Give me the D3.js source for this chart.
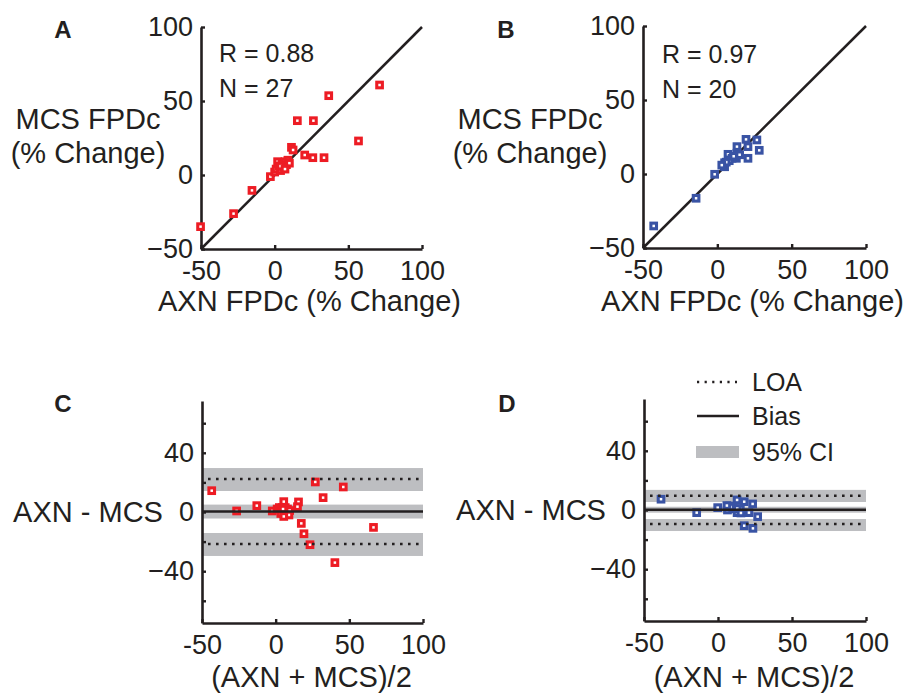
<!DOCTYPE html>
<html>
<head>
<meta charset="utf-8">
<script src="https://cdn.jsdelivr.net/npm/d3@7"></script>
<style>
  body { margin: 0; background: #fff; }
  svg text { font-family: "Liberation Sans", Arial, Helvetica, sans-serif; fill: #231f20; }
</style>
</head>
<body>
<svg id="fig" width="906" height="693"></svg>
<script>
// ---- data: FPDc % change, AXN vs MCS ----
// panel A: [AXN, MCS]
const pairsA = [
  [-50.3, -34.9], [-27.9, -26.1], [-15.4, -10.4], [-2.9, -1.1], [36.7, 53.6],
  [71.2, 60.8], [15.4, 36.7], [26.3, 36.7], [56.9, 23.0], [20.4, 13.5],
  [25.9, 11.7], [33.5, 11.7], [11.4, 18.7], [12.5, 16.9],
  [0, 2], [1, 4], [2, 9], [3, 6], [4, 3], [5, 8], [6, 5], [7, 9], [8, 7],
  [9, 10], [10, 8], [4, 6], [7, 4]
];
// panel B: [AXN, MCS]
const pairsB = [
  [-42.8, -35.1], [-14.3, -16.4], [-1.8, -0.2], [19.3, 23.4], [26.6, 23.0],
  [28.2, 16.0], [20.6, 10.6], [20.6, 18.5], [13.2, 18.5], [13.2, 14.0],
  [7.2, 13.3], [12.8, 10.6], [9.9, 10.6], [4.9, 7.6], [4.9, 4.9],
  [8, 9], [11, 12], [15, 13], [6, 8], [3, 6]
];
// panel C: [mean, difference]
const blandC = [
  [-43.4, 14.4], [-26.5, 0.7], [-12.8, 4.3], [-2.3, 0.7], [26.9, 20.3],
  [45.9, 16.9], [32.2, 9.7], [15.5, 6.8], [14.8, 3.6], [17.4, -7.7],
  [19.2, -14.7], [23.3, -22.1], [40.2, -34.2], [66.4, -10.4],
  [1, 2], [2.5, 3], [5.5, 7], [4.5, 3], [3.5, -1], [6.5, 3], [5.5, -1],
  [8, 2], [7.5, -1], [9.5, 1], [9, -2], [5, 2], [5.5, -3]
];
// panel D: [mean, difference]
const blandD = [
  [-38.5, 7.3], [-14.4, -1.8], [-0.2, 1.6], [12.9, 6.8], [17.7, 5.6],
  [23.4, 4.1], [26.8, -4.5], [17.7, -10.6], [23.6, -12.4], [12.9, -1.8],
  [20.9, -1.8], [15.1, 0.8], [11.8, 0.7], [7.8, 2.7], [6.4, 0],
  [10, 1], [13, 1], [15.5, -2], [8.5, 2], [6, 3]
];
// bias, limits of agreement and their 95% CIs
const biasC = 0.3, loaC = [-21.6, 22.3];
const ciC = [[-4.4, 5.0], [-29.7, -14.2], [14.2, 29.7]];
const biasD = 0.2, loaD = [-9.5, 9.6];
const ciD = [[-1.8, 2.2], [-14.2, -6.1], [5.4, 13.6]];

const statsA = ["R = 0.88", "N = 27"];
const statsB = ["R = 0.97", "N = 20"];

const scatterTicks = [-50, 0, 50, 100];
const diffTicks = [-60, -40, -20, 0, 20, 40, 60];
const diffLabelled = [-40, 0, 40];
const legendItems = ["LOA", "Bias", "95% CI"];

// ---- drawing ----
const RED = "#ed1c24", BLUE = "#3953a4", GREY = "#bdbec1", INK = "#231f20";
const svg = d3.select("#fig");
const yFmt = d => d < 0 ? "\u2212" + Math.abs(d) : String(d);
const xFmt = d => String(d);

function axes(g, x, y, yTicks, yLabelled) {
  const ax = g.append("g").attr("transform", `translate(0,${y.range()[0]})`)
    .call(d3.axisBottom(x).tickValues(scatterTicks).tickFormat(xFmt)
      .tickSizeInner(-4).tickSizeOuter(0).tickPadding(12));
  const ay = g.append("g").attr("transform", `translate(${x.range()[0]},0)`)
    .call(d3.axisLeft(y).tickValues(yTicks)
      .tickFormat(d => yLabelled.includes(d) ? yFmt(d) : "")
      .tickSizeInner(-4).tickSizeOuter(0).tickPadding(8));
  [ax, ay].forEach(a => {
    a.select(".domain").attr("stroke", INK).attr("stroke-width", 2.6);
    a.selectAll(".tick line").attr("stroke", INK).attr("stroke-width", 2.4);
    a.selectAll("text").style("font-size", "27px").attr("fill", INK);
  });
}

function markers(g, data, x, y, color) {
  g.append("g").selectAll("rect").data(data).join("rect")
    .attr("x", d => x(d[0]) - 2.8).attr("y", d => y(d[1]) - 2.8)
    .attr("width", 5.6).attr("height", 5.6)
    .attr("fill", "#fff").attr("stroke", color).attr("stroke-width", 3.1);
}

function scatterPanel(o) {
  const g = svg.append("g");
  const x = d3.scaleLinear().domain([-50, 100]).range(o.xr);
  const y = d3.scaleLinear().domain([-50, 100]).range(o.yr);
  axes(g, x, y, scatterTicks, scatterTicks);
  g.append("line")
    .attr("x1", x(-50)).attr("y1", y(-50)).attr("x2", x(100)).attr("y2", y(100))
    .attr("stroke", INK).attr("stroke-width", 2.5);
  markers(g, o.data, x, y, o.color);
  g.append("text").attr("x", o.letter[0]).attr("y", o.letter[1])
    .attr("text-anchor", "middle").style("font-size", "24px").style("font-weight", "bold")
    .text(o.name);
  o.stats.forEach((s, i) => g.append("text")
    .attr("x", o.statPos[0]).attr("y", o.statPos[1] + i * 35)
    .style("font-size", "25px").attr("fill", "#333").text(s));
  g.append("text").attr("text-anchor", "middle").style("font-size", "29px")
    .selectAll("tspan").data(["MCS FPDc", "(% Change)"]).join("tspan")
    .attr("x", o.yTitleX).attr("y", (d, i) => 129 + i * 34).text(d => d);
  g.append("text").attr("x", (o.xr[0] + o.xr[1]) / 2 - 2).attr("y", 311)
    .attr("text-anchor", "middle").style("font-size", "29px").text("AXN FPDc (% Change)");
}

function blandPanel(o) {
  const g = svg.append("g");
  const x = d3.scaleLinear().domain([-50, 100]).range(o.xr);
  const y = d3.scaleLinear().domain([-75, 75]).range(o.yr);
  const [x0, x1] = o.xr;
  // confidence bands
  g.append("g").selectAll("rect").data(o.ci).join("rect")
    .attr("x", x0).attr("width", x1 - x0)
    .attr("y", d => y(d[1])).attr("height", d => y(d[0]) - y(d[1]))
    .attr("fill", GREY);
  markers(g, o.data, x, y, o.color);
  // limits of agreement
  g.append("g").selectAll("line").data(o.loa).join("line")
    .attr("x1", x0 + 6).attr("x2", x1).attr("y1", d => y(d)).attr("y2", d => y(d))
    .attr("stroke", INK).attr("stroke-width", 2.6).attr("stroke-dasharray", "2.6,5.4");
  // bias
  g.append("line").attr("x1", x0).attr("x2", x1)
    .attr("y1", y(o.bias)).attr("y2", y(o.bias))
    .attr("stroke", INK).attr("stroke-width", 2.6);
  axes(g, x, y, diffTicks, diffLabelled);
  g.append("text").attr("x", o.letter[0]).attr("y", o.letter[1])
    .attr("text-anchor", "middle").style("font-size", "24px").style("font-weight", "bold")
    .text(o.name);
  g.append("text").attr("x", o.yTitleX).attr("y", y(0) + 10)
    .attr("text-anchor", "middle").style("font-size", "29px").text("AXN - MCS");
  g.append("text").attr("x", (x0 + x1) / 2 - 1).attr("y", 687)
    .attr("text-anchor", "middle").style("font-size", "29px").text("(AXN + MCS)/2");
}

scatterPanel({ name: "A", data: pairsA, color: RED, xr: [201, 422], yr: [249, 27],
  letter: [63, 38], stats: statsA, statPos: [219, 62], yTitleX: 88 });
scatterPanel({ name: "B", data: pairsB, color: BLUE, xr: [643, 866], yr: [248, 26],
  letter: [506, 38], stats: statsB, statPos: [662, 63], yTitleX: 530 });
blandPanel({ name: "C", data: blandC, color: RED, xr: [202, 423], yr: [623, 401],
  bias: biasC, loa: loaC, ci: ciC, letter: [63, 412], yTitleX: 88 });
blandPanel({ name: "D", data: blandD, color: BLUE, xr: [644, 866], yr: [621, 399],
  bias: biasD, loa: loaD, ci: ciD, letter: [507, 412], yTitleX: 531 });

// legend for the agreement panels
const lg = svg.append("g");
const rows = [382, 416, 452];
lg.append("line").attr("x1", 697).attr("x2", 737).attr("y1", rows[0]).attr("y2", rows[0])
  .attr("stroke", INK).attr("stroke-width", 2.4).attr("stroke-dasharray", "2.2,5.4");
lg.append("line").attr("x1", 697).attr("x2", 739).attr("y1", rows[1]).attr("y2", rows[1])
  .attr("stroke", INK).attr("stroke-width", 2.6);
lg.append("rect").attr("x", 696).attr("y", rows[2] - 6).attr("width", 43).attr("height", 12)
  .attr("fill", GREY);
lg.selectAll("text").data(legendItems).join("text")
  .attr("x", 752).attr("y", (d, i) => rows[i] + 9)
  .style("font-size", "25px").text(d => d);
</script>
</body>
</html>
